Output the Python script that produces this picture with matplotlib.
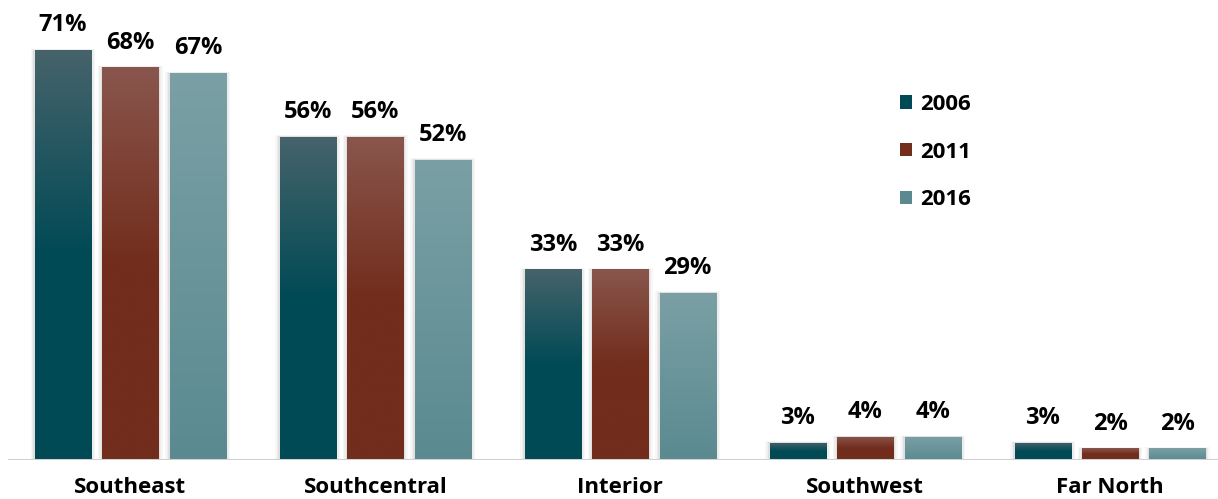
import matplotlib
matplotlib.use('Agg')
import matplotlib.pyplot as plt
import numpy as np
from matplotlib.colors import LinearSegmentedColormap
from matplotlib.patches import Patch, Rectangle

# data
regions = ['Southeast', 'Southcentral', 'Interior', 'Southwest', 'Far North']
years = ['2006', '2011', '2016']
v2006 = [71, 56, 33, 3, 3]
v2011 = [68, 56, 33, 4, 2]
v2016 = [67, 52, 29, 4, 2]
series = [v2006, v2011, v2016]

# (top colour, bottom colour, where the bottom colour is reached)
grads = [('#46636b', '#004a55', 0.5),
         ('#89564d', '#722d1c', 0.5),
         ('#7aa0a5', '#5a8a90', 1.0)]
solid = ['#004a55', '#722d1c', '#5a8a90']

plt.rcParams['font.family'] = ['Open Sans', 'DejaVu Sans']

W, H = 1218, 499
fig = plt.figure(figsize=(W / 100, H / 100), dpi=100)
ax = fig.add_axes([8 / W, 39 / H, (W - 8) / W, (H - 39) / H])
xlim = (-0.5, 4.5 - (1232.5 - W) / 245)
for s in ax.spines.values():
    s.set_visible(False)
ax.set_xticks([])
ax.set_yticks([])

x = np.arange(len(regions))
step = 0.2755
width = 0.229

for i, vals in enumerate(series):
    top, bot, stop = grads[i]
    if stop < 1:
        cmap = LinearSegmentedColormap.from_list('g%d' % i, [(0, bot), (1 - stop, bot), (1, top)])
    else:
        cmap = LinearSegmentedColormap.from_list('g%d' % i, [bot, top])
    xs = x + (i - 1) * step
    # soft shadow
    for k, a in zip([0.018, 0.012, 0.006], [0.03, 0.04, 0.05]):
        for xx, v in zip(xs, vals):
            ax.add_patch(Rectangle((xx - width / 2 - k, 0), width + 2 * k, v + k * 12,
                                   color='black', alpha=a, lw=0, zorder=1))
    bars = ax.bar(xs, vals, width, color=solid[i], zorder=2, lw=0)
    grad = np.linspace(0, 1, 256).reshape(-1, 1)
    for b, v in zip(bars, vals):
        x0 = b.get_x()
        im = ax.imshow(grad, cmap=cmap, aspect='auto', origin='lower',
                       extent=(x0, x0 + b.get_width(), 0, v), zorder=3)
        im.set_clip_path(b)
        ax.text(b.get_x() + b.get_width() / 2, v + 2.2, '%d%%' % v,
                ha='center', va='bottom', fontsize=17, fontweight='bold', color='black')

ax.set_xlim(*xlim)
ax.set_ylim(0, 79.65)
ax.axhline(0, color='#d0d0d0', lw=2.2, zorder=4)

for xx, r in zip(x, regions):
    ax.text(xx, -3.0, r, ha='center', va='top', fontsize=16, fontweight='bold',
            color='black', clip_on=False)

handles = [Patch(facecolor=c, edgecolor='none') for c in solid]
ax.legend(handles, years, loc='upper left', bbox_to_anchor=(880 / (W - 8) - 8 / (W - 8), 1 - 74 / 460),
          frameon=False, prop={'size': 16, 'weight': 'bold'},
          handlelength=0.55, handleheight=0.55, handletextpad=0.35, labelspacing=1.2)

fig.savefig('out.png', dpi=100)
